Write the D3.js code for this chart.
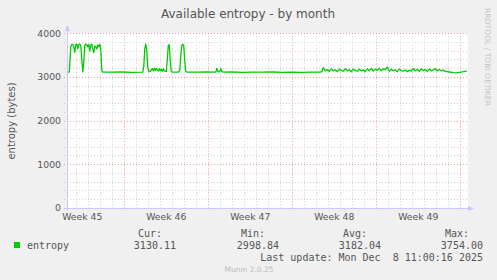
<!DOCTYPE html>
<meta charset="utf-8">
<script src="https://d3js.org/d3.v7.min.js"></script>
<style>
  body { margin: 0; background: #f0f0f0; }
  text { font-family: "DejaVu Sans", sans-serif; fill: #555; }
  .mono { font-family: "DejaVu Sans Mono", monospace; font-size: 10px; white-space: pre; }
</style>
<div id="chart"></div>
<script>

// entropy samples: hours after seriesStart -> available bytes
var seriesStart = new Date(2025, 10, 5, 6, 0)
var hours = [0, 4, 7, 9, 11, 13, 15, 17, 19, 21, 23, 25, 27, 29, 31, 33, 35, 37, 39, 41,
  43, 45, 47, 49, 51, 53, 55, 57, 59, 61, 63, 65, 67, 69, 71, 90, 110, 130, 150,
  151, 153, 155, 157, 159, 161, 163, 166, 170, 172, 174, 176, 178, 180, 182, 184, 186,
  188, 190, 192, 194, 196, 198, 200, 202, 204, 206, 208, 210, 222, 225, 227, 229, 231,
  233, 235, 237, 240, 260, 280, 294, 297, 299, 301, 303, 305, 307, 309, 312, 330, 350,
  370, 390, 410, 430, 450, 470, 490, 505, 509,
  512, 516, 520, 524, 528, 532, 536, 540, 544, 548, 552, 556, 560, 564, 568, 572, 576,
  580, 584, 588, 592, 596, 600, 604, 608, 612, 616, 620, 624, 628, 632, 636, 640, 644,
  648, 652, 656, 660, 664, 668, 672, 676, 680, 684, 688, 692, 696, 700, 704, 708, 712,
  716, 720, 724, 728, 732, 736, 740, 744, 748, 752, 756,
  764, 772, 778, 784, 790, 796, 799]
var bytes = [3110, 3112, 3700, 3745, 3740, 3680, 3560, 3740, 3750, 3650, 3745, 3750, 3720, 3400, 3115, 3350, 3720, 3750, 3735, 3690,
  3745, 3590, 3730, 3750, 3640, 3560, 3710, 3690, 3640, 3730, 3700, 3745, 3620, 3150, 3110, 3108, 3112, 3106, 3110,
  3112, 3250, 3650, 3750, 3600, 3200, 3120, 3130, 3190, 3140, 3200, 3145, 3195, 3150, 3135, 3190, 3140,
  3175, 3130, 3190, 3135, 3125, 3130, 3400, 3720, 3740, 3350, 3120, 3110, 3112, 3150, 3500, 3720, 3750,
  3700, 3350, 3120, 3110, 3108, 3112, 3108, 3110, 3195, 3130, 3115, 3120, 3195, 3125, 3110, 3112, 3105,
  3110, 3108, 3112, 3106, 3110, 3104, 3110, 3112, 3115,
  3215, 3140, 3170, 3125, 3185, 3140, 3165, 3120, 3175, 3150, 3130, 3190, 3140, 3165, 3115, 3180, 3150,
  3130, 3175, 3140, 3160, 3125, 3185, 3145, 3195, 3135, 3180, 3150, 3200, 3140, 3185, 3165, 3225, 3130,
  3175, 3140, 3165, 3125, 3180, 3145, 3130, 3160, 3120, 3150, 3135, 3195, 3140, 3175, 3130, 3185, 3145,
  3170, 3125, 3180, 3140, 3160, 3190, 3135, 3170, 3140, 3155, 3125,
  3112, 3098, 3092, 3105, 3115, 3125, 3130]

var yTicks = [0, 1000, 2000, 3000, 4000]
var legendHeads = ["Cur:", "Min:", "Avg:", "Max:"]
var legendValues = ["3130.11", "2998.84", "3182.04", "3754.00"]

var width = 497, height = 280
var plotLeft = 67, plotRight = 467, plotTop = 33.3, plotBottom = 207.7

var svg = d3.select("#chart")
  .append("svg")
    .attr("width", width)
    .attr("height", height)

svg.append("rect")
    .attr("width", width).attr("height", height)
    .attr("fill", "#f0f0f0")

// scales
var x = d3.scaleTime()
  .domain([new Date(2025, 10, 5, 5, 24), new Date(2025, 11, 8, 13, 24)])
  .range([plotLeft, plotRight])
var y = d3.scaleLinear()
  .domain([0, 4000])
  .range([plotBottom, plotTop])

var data = hours.map(function(h, i) {
  return { t: d3.timeHour.offset(seriesStart, h), v: bytes[i] }
})

// plot area
svg.append("rect")
    .attr("x", plotLeft).attr("y", plotTop)
    .attr("width", plotRight - plotLeft + 1).attr("height", plotBottom - plotTop)
    .attr("fill", "#fff")

// minor grid
var days = d3.timeDay.range(x.domain()[0], x.domain()[1])
svg.append("g").selectAll("line")
  .data(days.filter(function(d) { return d.getDay() != 1 }))
  .enter().append("line")
    .attr("x1", function(d) { return Math.round(x(d)) + 0.5 })
    .attr("x2", function(d) { return Math.round(x(d)) + 0.5 })
    .attr("y1", plotTop).attr("y2", plotBottom + 3)
    .attr("stroke", "#cfcfcf")
    .attr("stroke-dasharray", "1,2")
svg.append("g").selectAll("line")
  .data(d3.range(200, 4001, 200).filter(function(v) { return v % 1000 != 0 }))
  .enter().append("line")
    .attr("x1", plotLeft - 3).attr("x2", plotRight)
    .attr("y1", function(d) { return Math.round(y(d)) + 0.5 })
    .attr("y2", function(d) { return Math.round(y(d)) + 0.5 })
    .attr("stroke", "#cfcfcf")
    .attr("stroke-dasharray", "1,2")

// major grid
svg.append("g").selectAll("line")
  .data(d3.timeMonday.range(x.domain()[0], x.domain()[1]))
  .enter().append("line")
    .attr("x1", function(d) { return Math.round(x(d)) + 0.5 })
    .attr("x2", function(d) { return Math.round(x(d)) + 0.5 })
    .attr("y1", plotTop).attr("y2", plotBottom + 3)
    .attr("stroke", "#f29b9b")
    .attr("stroke-dasharray", "1,2")
svg.append("g").selectAll("line")
  .data(yTicks.filter(function(v) { return v > 0 }))
  .enter().append("line")
    .attr("x1", plotLeft - 3).attr("x2", plotRight)
    .attr("y1", function(d) { return Math.round(y(d)) + 0.5 })
    .attr("y2", function(d) { return Math.round(y(d)) + 0.5 })
    .attr("stroke", "#f29b9b")
    .attr("stroke-dasharray", "1,2")

// y tick labels
svg.append("g").selectAll("text")
  .data(yTicks)
  .enter().append("text")
    .attr("x", 61)
    .attr("y", function(d) { return y(d) + 3.5 })
    .attr("text-anchor", "end")
    .style("font-size", "9.3px")
    .text(function(d) { return d })

// x labels, centred mid-week
var weekStarts = d3.timeMonday.range(new Date(2025, 10, 3), x.domain()[1])
svg.append("g").selectAll("text")
  .data(weekStarts.filter(function(d) { return x(d3.timeHour.offset(d, 84)) < plotRight }))
  .enter().append("text")
    .attr("x", function(d) { return x(d3.timeHour.offset(d, 84)) })
    .attr("y", 219.5)
    .attr("text-anchor", "middle")
    .style("font-size", "9.3px")
    .text(d3.timeFormat("Week %V"))

// the entropy line
svg.append("clipPath").attr("id", "clip")
  .append("rect")
    .attr("x", plotLeft).attr("y", plotTop - 2)
    .attr("width", plotRight - plotLeft).attr("height", plotBottom - plotTop + 2)
svg.append("path")
    .datum(data)
    .attr("clip-path", "url(#clip)")
    .attr("fill", "none")
    .attr("stroke", "#00cc00")
    .attr("stroke-width", 1.3)
    .attr("stroke-linejoin", "round")
    .attr("d", d3.line()
      .x(function(d) { return x(d.t) })
      .y(function(d) { return y(d.v) }))

// axes with arrows
var axisColor = "#c8c8ff"
var yb = Math.round(plotBottom) + 0.5
svg.append("line")
    .attr("x1", plotLeft + 0.5).attr("x2", plotLeft + 0.5)
    .attr("y1", plotBottom + 3).attr("y2", 29)
    .attr("stroke", axisColor)
svg.append("path")
    .attr("d", "M" + (plotLeft - 2) + ",31 L" + (plotLeft + 3) + ",31 L" + (plotLeft + 0.5) + ",25 Z")
    .attr("fill", axisColor)
svg.append("line")
    .attr("x1", plotLeft - 3).attr("x2", plotRight + 2)
    .attr("y1", yb).attr("y2", yb)
    .attr("stroke", axisColor)
svg.append("path")
    .attr("d", "M" + (plotRight + 1) + "," + (yb - 2.5) + " L" + (plotRight + 1) + "," + (yb + 2.5) + " L" + (plotRight + 7) + "," + yb + " Z")
    .attr("fill", axisColor)

// title and side texts
svg.append("text")
    .attr("x", 248).attr("y", 17.5)
    .attr("text-anchor", "middle")
    .style("font-size", "12px")
    .text("Available entropy - by month")

svg.append("text")
    .attr("transform", "translate(15,121) rotate(-90)")
    .attr("text-anchor", "middle")
    .style("font-size", "10px")
    .text("entropy (bytes)")

svg.append("text")
    .attr("transform", "translate(485,57) rotate(90)")
    .attr("text-anchor", "middle")
    .style("font-size", "7.6px")
    .style("fill", "#c4c4c4")
    .text("RRDTOOL / TOBI OETIKER")

// legend
svg.append("rect")
    .attr("x", 14).attr("y", 242)
    .attr("width", 6).attr("height", 6)
    .attr("fill", "#00cc00")
svg.append("text")
    .attr("class", "mono")
    .attr("x", 27).attr("y", 249)
    .text("entropy")

var colRight = [176, 279, 381, 483]
svg.append("g").selectAll("text")
  .data(legendHeads)
  .enter().append("text")
    .attr("class", "mono")
    .attr("x", function(d, i) { return colRight[i] - 14 })
    .attr("y", 237)
    .attr("text-anchor", "end")
    .text(function(d) { return d })
svg.append("g").selectAll("text")
  .data(legendValues)
  .enter().append("text")
    .attr("class", "mono")
    .attr("x", function(d, i) { return colRight[i] })
    .attr("y", 249)
    .attr("text-anchor", "end")
    .text(function(d) { return d })

svg.append("text")
    .attr("class", "mono")
    .attr("x", 483).attr("y", 261)
    .attr("text-anchor", "end")
    .text("Last update: Mon Dec  8 11:00:16 2025")

svg.append("text")
    .attr("x", 249).attr("y", 272)
    .attr("text-anchor", "middle")
    .style("font-size", "7.5px")
    .style("fill", "#bbb")
    .text("Munin 2.0.25")

</script>
